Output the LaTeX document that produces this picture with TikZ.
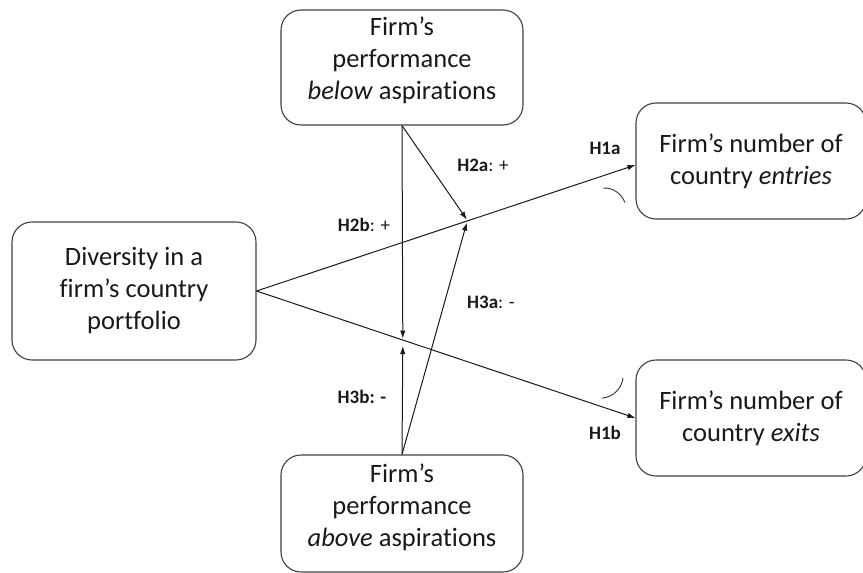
\documentclass[tikz,border=0pt]{standalone}
\usepackage{fontspec}
\setmainfont{Carlito}[Ligatures=NoCommon]
\usetikzlibrary{arrows.meta}
\begin{document}
\begin{tikzpicture}[x=1pt,y=-1pt,
  box/.style={draw=black!75, line width=1.1pt, rounded corners=20pt, align=center,
    font=\fontsize{26.5}{32}\selectfont, text=black!90, inner sep=0pt},
  arr/.style={-{Latex[length=8pt,width=5.5pt]}, line width=1pt, draw=black!90},
  lab/.style={font=\fontsize{19}{22}\selectfont, text=black!90, inner sep=0pt},
  anglearc/.style={line width=0.9pt, draw=black!80}
]
\useasboundingbox (0,0) rectangle (863,573);
\clip (0,0) rectangle (863,573);

\node[box, minimum width=244pt, minimum height=138pt] (div) at (134,291)
  {Diversity in a\\firm’s country\\portfolio};
\node[box, minimum width=242pt, minimum height=115pt, text depth=19pt] (below) at (402,67.5)
  {Firm’s\\performance\\\textit{below} aspirations};
\node[box, minimum width=242pt, minimum height=117pt, text depth=16pt] (above) at (402,513.5)
  {Firm’s\\performance\\\textit{above} aspirations};
\node[box, minimum width=230pt, minimum height=116pt] (ent) at (751,161)
  {Firm’s number of\\country \textit{entries}};
\node[box, minimum width=230pt, minimum height=116pt] (exi) at (751,418)
  {Firm’s number of\\country \textit{exits}};

\coordinate (enttip) at ([yshift=-4pt]ent.west);
\draw[arr] (div.east) -- (enttip);
\draw[arr] (div.east) -- (exi.west);

\path (div.east) -- (enttip) coordinate[pos=0.555] (j1);
\path (div.east) -- (exi.west) coordinate[pos=0.386] (j2);

\draw[arr] (below.south) -- ([yshift=1.5pt]j1);
\draw[arr] (below.south) -- ([yshift=1.5pt]j2);
\draw[arr] (above.north) -- ([yshift=-1.5pt]j1);
\draw[arr] (above.north) -- ([yshift=-6pt]j2);

\draw[anglearc] (603,188) arc[start angle=-93, end angle=-20, radius=22];
\draw[anglearc] (623,378) arc[start angle=7, end angle=85, radius=23];

\node[lab] (h1a) at (605,148) {\textbf{H1a}};
\node[lab] (h1b) at (605,433) {\textbf{H1b}};
\node[lab] (h2a) at (483,165) {\textbf{H2a}: +};
\node[lab] (h2b) at (364,225) {\textbf{H2b}: +};
\node[lab] (h3a) at (491,302) {\textbf{H3a}: -};
\node[lab] (h3b) at (362,397) {\textbf{H3b: -}};
\end{tikzpicture}
\end{document}
